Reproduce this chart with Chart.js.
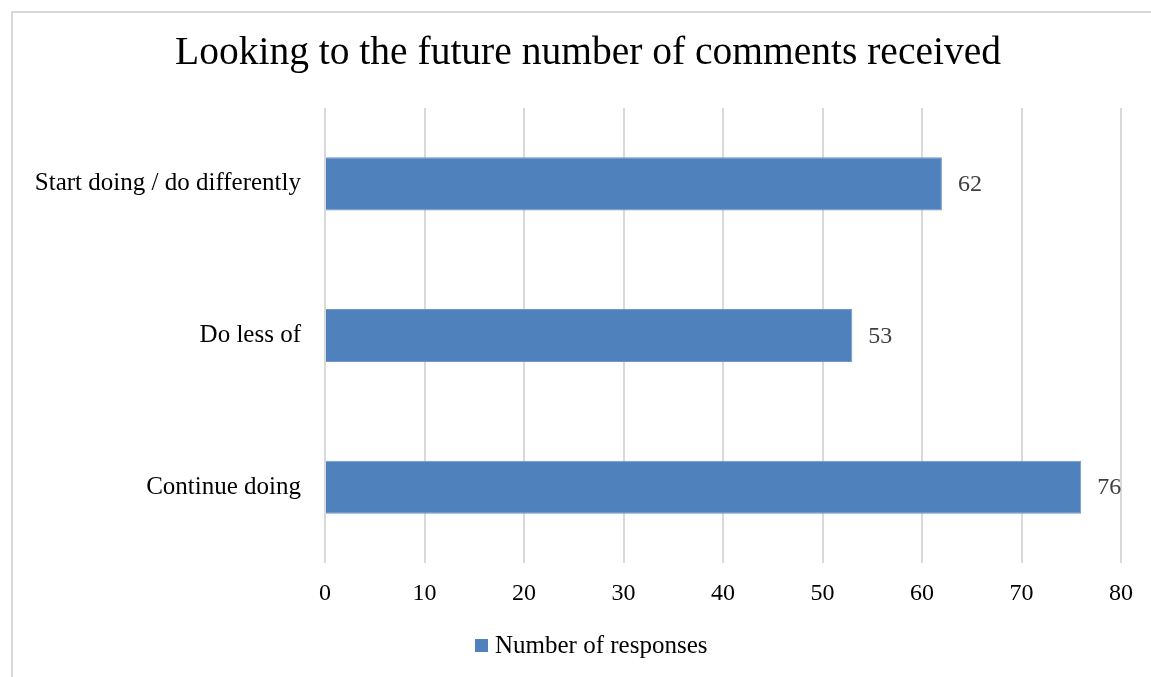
<!DOCTYPE html>
<html>
<head>
<meta charset="utf-8">
<script src="https://cdn.jsdelivr.net/npm/chart.js@4/dist/chart.umd.min.js"></script>
<style>
  html, body { margin: 0; padding: 0; background: #fff; overflow: hidden; }
  #wrap { position: relative; width: 1151px; height: 677px; overflow: hidden; }
  #frame { position: absolute; left: 11px; top: 11px; width: 1200px; height: 700px; border: 2px solid #d9d9d9; box-sizing: border-box; }
  #c { position: absolute; left: 0; top: 0; }
</style>
</head>
<body>
<div id="wrap">
  <div id="frame"></div>
  <canvas id="c" width="1151" height="677"></canvas>
</div>
<script>
// Categories, top to bottom
const categories = ['Start doing / do differently', 'Do less of', 'Continue doing'];
// Number of responses per category
const responses = [62, 53, 76];
const seriesName = 'Number of responses';
const chartTitle = 'Looking to the future number of comments received';

const FONT = '"Liberation Serif", "Times New Roman", serif';
const BAR_COLOR = '#4f81bd';
const FRAME_CENTER = 588;

// Chart heading, centred over the whole frame rather than the plot
const heading = {
  id: 'heading',
  afterDraw(chart) {
    const ctx = chart.ctx;
    ctx.save();
    ctx.font = '39.5px ' + FONT;
    ctx.fillStyle = '#000';
    ctx.textAlign = 'center';
    ctx.textBaseline = 'middle';
    ctx.fillText(chartTitle, FRAME_CENTER, 54);
    ctx.restore();
  }
};

// Series key below the axis: a small square swatch followed by the series name
const seriesKey = {
  id: 'seriesKey',
  afterDraw(chart) {
    const ctx = chart.ctx;
    const ds = chart.data.datasets[0];
    const box = 13, gap = 7, cy = 646;
    ctx.save();
    ctx.font = '25px ' + FONT;
    const w = box + gap + ctx.measureText(ds.label).width;
    const x0 = Math.round(FRAME_CENTER + 3 - w / 2);
    ctx.fillStyle = ds.backgroundColor;
    ctx.fillRect(x0, cy - 7, box, box);
    ctx.fillStyle = '#000';
    ctx.textAlign = 'left';
    ctx.textBaseline = 'middle';
    ctx.fillText(ds.label, x0 + box + gap, cy);
    ctx.restore();
  }
};

// Value labels drawn just past the end of each bar
const valueLabels = {
  id: 'valueLabels',
  afterDatasetsDraw(chart) {
    const ctx = chart.ctx;
    chart.data.datasets.forEach((ds, di) => {
      chart.getDatasetMeta(di).data.forEach((bar, i) => {
        ctx.save();
        ctx.font = '24px ' + FONT;
        ctx.fillStyle = '#404040';
        ctx.textAlign = 'left';
        ctx.textBaseline = 'middle';
        ctx.fillText(String(ds.data[i]), bar.x + 16, bar.y + 1);
        ctx.restore();
      });
    });
  }
};

new Chart(document.getElementById('c'), {
  type: 'bar',
  data: {
    labels: categories,
    datasets: [{
      label: seriesName,
      data: responses,
      backgroundColor: BAR_COLOR,
      borderColor: '#7097c8',
      borderWidth: 1,
      categoryPercentage: 1,
      barPercentage: 0.35
    }]
  },
  options: {
    indexAxis: 'y',
    responsive: false,
    animation: false,
    devicePixelRatio: 1,
    layout: { padding: { left: 0, right: 30, top: 108, bottom: 69 } },
    scales: {
      x: {
        min: 0,
        max: 80,
        ticks: { stepSize: 10, color: '#000', padding: 16, font: { family: FONT, size: 24 } },
        grid: { color: '#d9d9d9', lineWidth: 2, drawTicks: false },
        border: { display: false },
        afterFit(scale) { scale.height = 45; }
      },
      y: {
        ticks: { color: '#000', padding: 24, font: { family: FONT, size: 25 } },
        grid: { display: false, drawTicks: false },
        border: { display: false },
        afterFit(scale) { scale.width = 325; }
      }
    },
    plugins: {
      title: { display: false },
      legend: { display: false },
      tooltip: { enabled: false }
    }
  },
  plugins: [valueLabels, heading, seriesKey]
});
</script>
</body>
</html>
